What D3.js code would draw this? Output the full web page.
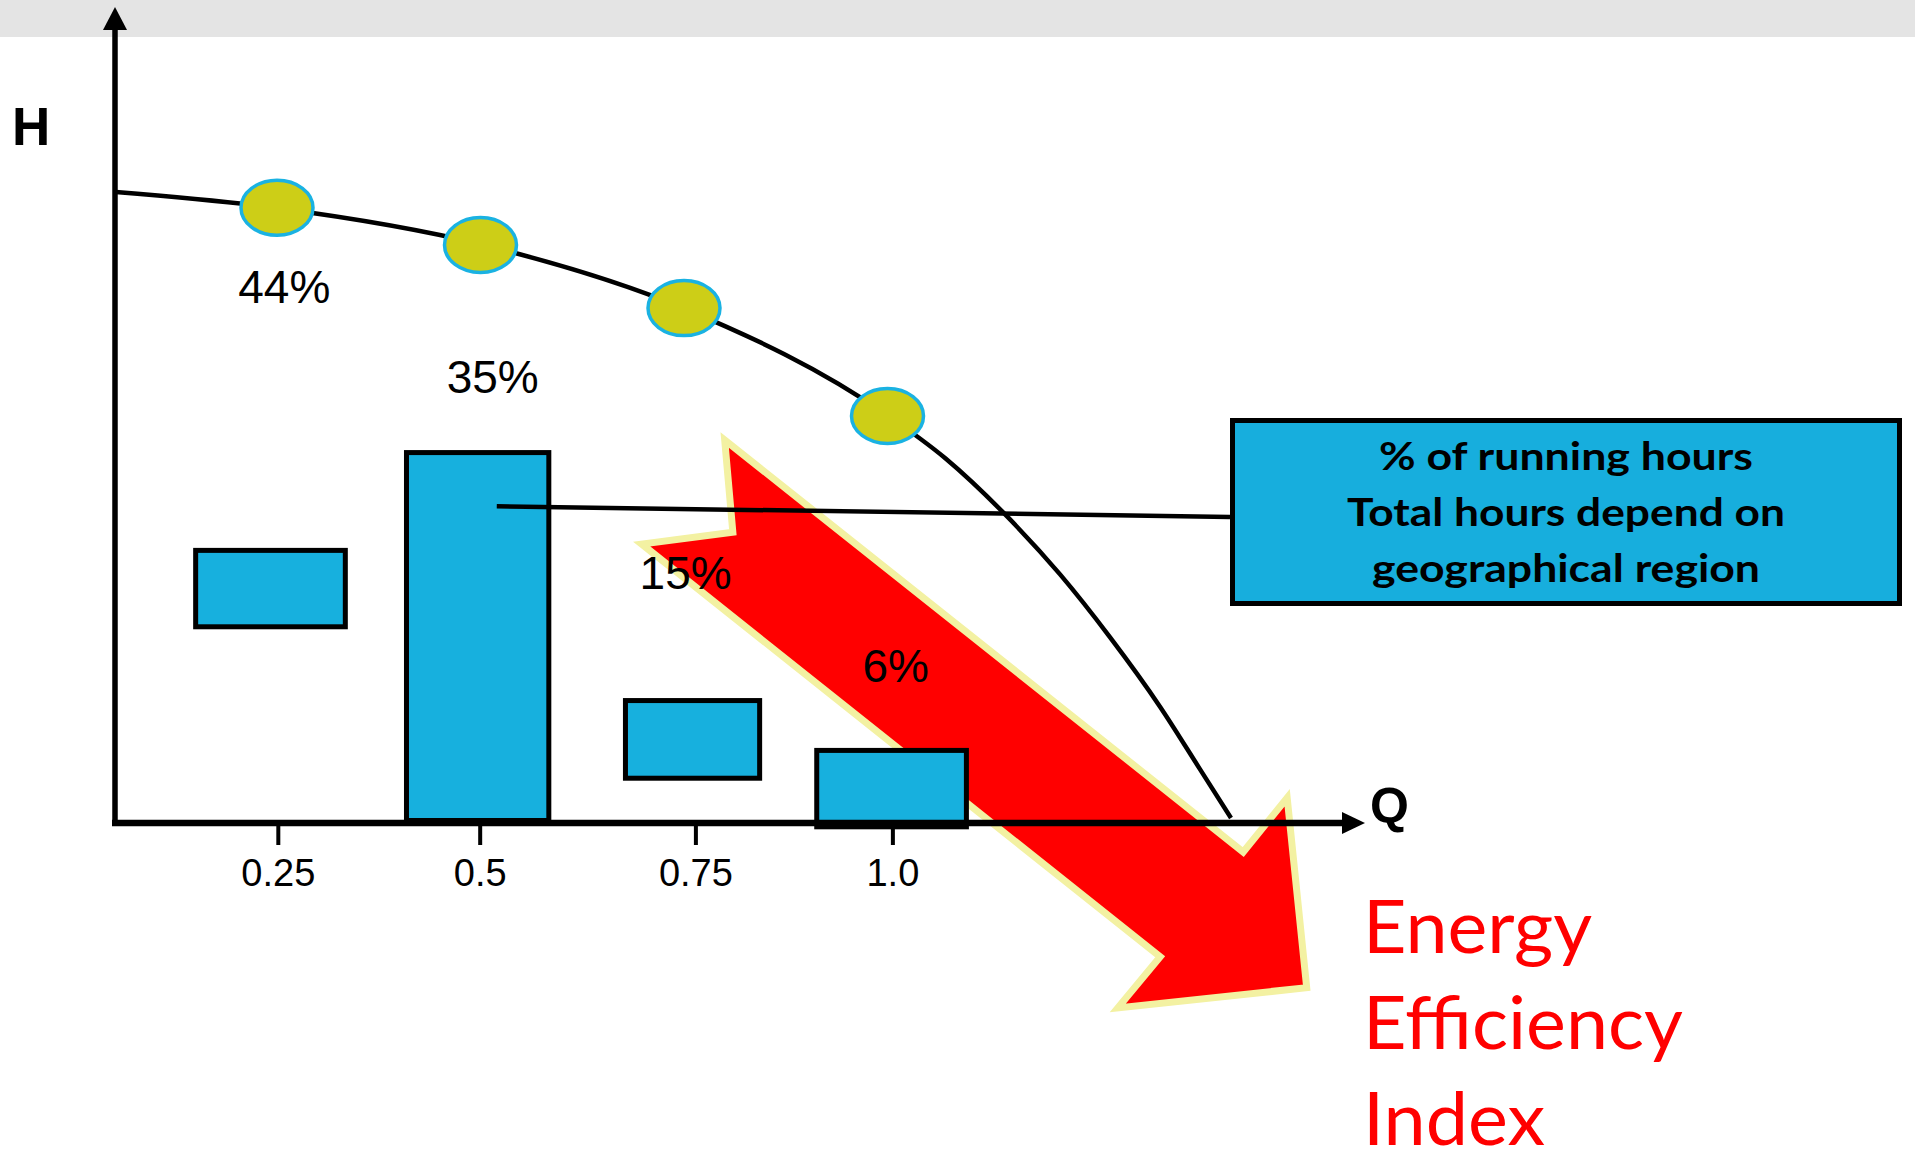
<!DOCTYPE html>
<html>
<head>
<meta charset="utf-8">
<title>Pump curve and running hours</title>
<script src="https://cdn.jsdelivr.net/npm/d3@7/dist/d3.min.js"></script>
<style>
  body { margin: 0; background: #fff; }
  svg { display: block; }
</style>
</head>
<body>
<svg id="chart" width="1915" height="1165"></svg>
<script>
// pump curve H(Q)
const curveQ = [0.052, 0.2475, 0.504, 0.749, 0.999, 1.071, 1.143, 1.212, 1.273, 1.335, 1.384, 1.422];
const curveH = [1.000, 0.975, 0.916, 0.816, 0.647, 0.578, 0.491, 0.394, 0.295, 0.184, 0.085, 0.008];

// operating points on the curve
const pointQ = [0.25, 0.5, 0.75, 1.0];
const pointH = [0.975, 0.916, 0.816, 0.645];

// running-hour boxes
const barQ0 = [0.147, 0.406, 0.675, 0.910];
const barQ1 = [0.337, 0.587, 0.846, 1.100];
const barH0 = [0.307, 0.000, 0.067, -0.010];
const barH1 = [0.436, 0.591, 0.198, 0.119];

// share of running hours
const shares = ["44%", "35%", "15%", "6%"];
const shareQ = [0.259, 0.515, 0.752, 1.010];
const shareH = [0.824, 0.681, 0.371, 0.223];

// x ticks
const tickQ = [0.251, 0.499, 0.764, 1.006];
const tickLabels = ["0.25", "0.5", "0.75", "1.0"];

// big red arrow outline (Q, H)
const arrowQ = [0.800, 1.437, 1.491, 1.515, 1.283, 1.335, 0.698, 0.810];
const arrowH = [0.607, -0.046, 0.040, -0.261, -0.293, -0.212, 0.442, 0.461];

// leader line from tallest box to callout
const leaderQ = [0.520];
const leaderH = [0.502, 0.485];

const calloutLines = ["% of running hours", "Total hours depend on", "geographical region"];
const calloutWidths = [374, 438, 388];
const eeiLines = ["Energy", "Efficiency", "Index"];
const eeiWidths = [229, 320, 182];

// layout
const svg = d3.select("#chart");
const W = 1915, H = 1165;
const originX = 115, originY = 823;
const xEnd = 1365, yEnd = 7;
const box = {x: 1230, y: 418, w: 672, h: 188};

const x = d3.scaleLinear().domain([0, 1]).range([73.5, 887.5]);
const y = d3.scaleLinear().domain([0, 1]).range([originY, 192]);

// grey band at the top
svg.append("rect")
    .attr("x", 0).attr("y", 0)
    .attr("width", W).attr("height", 37)
    .attr("fill", "#e4e4e4");

// red arrow
svg.append("polygon")
    .attr("points", arrowQ.map((q, i) => x(q) + "," + y(arrowH[i])).join(" "))
    .attr("fill", "#ff0000")
    .attr("stroke", "#f3f1a2")
    .attr("stroke-width", 7)
    .attr("stroke-linejoin", "miter");

// pump curve
const linePath = d3.line()
    .x(d => x(d[0]))
    .y(d => y(d[1]))
    .curve(d3.curveMonotoneX);

svg.append("path")
    .attr("d", linePath(curveQ.map((q, i) => [q, curveH[i]])))
    .attr("fill", "none")
    .attr("stroke", "#000")
    .attr("stroke-width", 4.5);

// boxes
const sw = 5;
svg.selectAll("rect.bar")
    .data(barQ0)
    .join("rect")
    .attr("class", "bar")
    .attr("x", (d, i) => x(d) + sw / 2)
    .attr("y", (d, i) => y(barH1[i]) + sw / 2)
    .attr("width", (d, i) => x(barQ1[i]) - x(d) - sw)
    .attr("height", (d, i) => y(barH0[i]) - y(barH1[i]) - sw)
    .attr("fill", "#17b0de")
    .attr("stroke", "#000")
    .attr("stroke-width", sw);

// axes
svg.append("line")
    .attr("x1", originX).attr("y1", originY + 3)
    .attr("x2", originX).attr("y2", yEnd + 20)
    .attr("stroke", "#000").attr("stroke-width", 5.5);
svg.append("polygon")
    .attr("points", [[originX, yEnd], [originX - 12, yEnd + 23], [originX + 12, yEnd + 23]].join(" "))
    .attr("fill", "#000");

svg.append("line")
    .attr("x1", originX - 3).attr("y1", originY)
    .attr("x2", xEnd - 20).attr("y2", originY)
    .attr("stroke", "#000").attr("stroke-width", 6.5);
svg.append("polygon")
    .attr("points", [[xEnd, originY], [xEnd - 23, originY - 11], [xEnd - 23, originY + 11]].join(" "))
    .attr("fill", "#000");

const axis = d3.axisBottom(x)
    .tickValues(tickQ)
    .tickSize(22)
    .tickFormat((d, i) => tickLabels[i]);

const axisGroup = svg.append("g")
    .attr("transform", "translate(0," + originY + ")")
    .call(axis);
axisGroup.select(".domain").remove();
axisGroup.selectAll(".tick line")
    .attr("stroke", "#000")
    .attr("stroke-width", 4);
axisGroup.selectAll(".tick text")
    .attr("y", 63)
    .attr("dy", 0)
    .attr("fill", "#000")
    .style("font-family", "'Liberation Sans', Arial, sans-serif")
    .style("font-size", "38px");

// axis titles
svg.append("text")
    .attr("x", 12).attr("y", 145)
    .style("font-family", "'Liberation Sans', Arial, sans-serif")
    .style("font-weight", "bold")
    .style("font-size", "53px")
    .text("H");
svg.append("text")
    .attr("x", 1370).attr("y", 823)
    .style("font-family", "'Liberation Sans', Arial, sans-serif")
    .style("font-weight", "bold")
    .style("font-size", "50px")
    .text("Q");

// leader line
svg.append("line")
    .attr("x1", x(leaderQ[0])).attr("y1", y(leaderH[0]))
    .attr("x2", box.x).attr("y2", y(leaderH[1]))
    .attr("stroke", "#000").attr("stroke-width", 4.5);

// operating points
svg.selectAll("ellipse")
    .data(pointQ)
    .join("ellipse")
    .attr("cx", d => x(d))
    .attr("cy", (d, i) => y(pointH[i]))
    .attr("rx", 36)
    .attr("ry", 27.5)
    .attr("fill", "#cdce17")
    .attr("stroke", "#1ab2e2")
    .attr("stroke-width", 3.5);

// share labels
svg.selectAll("text.share")
    .data(shares)
    .join("text")
    .attr("class", "share")
    .attr("x", (d, i) => x(shareQ[i]))
    .attr("y", (d, i) => y(shareH[i]))
    .attr("text-anchor", "middle")
    .style("font-family", "'Liberation Sans', Arial, sans-serif")
    .style("font-size", "46px")
    .text(d => d);

// callout box
svg.append("rect")
    .attr("x", box.x + 2.5).attr("y", box.y + 2.5)
    .attr("width", box.w - 5).attr("height", box.h - 5)
    .attr("fill", "#17aedd")
    .attr("stroke", "#000")
    .attr("stroke-width", 5);

svg.selectAll("text.callout")
    .data(calloutLines)
    .join("text")
    .attr("class", "callout")
    .attr("x", box.x + box.w / 2)
    .attr("y", (d, i) => 470 + i * 56)
    .attr("text-anchor", "middle")
    .attr("textLength", (d, i) => calloutWidths[i])
    .attr("lengthAdjust", "spacingAndGlyphs")
    .style("font-family", "Lato, 'Open Sans', sans-serif")
    .style("font-weight", "bold")
    .style("font-size", "39px")
    .text(d => d);

// energy efficiency index label
svg.selectAll("text.eei")
    .data(eeiLines)
    .join("text")
    .attr("class", "eei")
    .attr("x", 1363)
    .attr("y", (d, i) => 953 + i * 96)
    .attr("textLength", (d, i) => eeiWidths[i])
    .attr("lengthAdjust", "spacingAndGlyphs")
    .attr("fill", "#ff0000")
    .style("font-family", "Lato, 'Open Sans', sans-serif")
    .style("font-size", "74px")
    .text(d => d);
</script>
</body>
</html>
